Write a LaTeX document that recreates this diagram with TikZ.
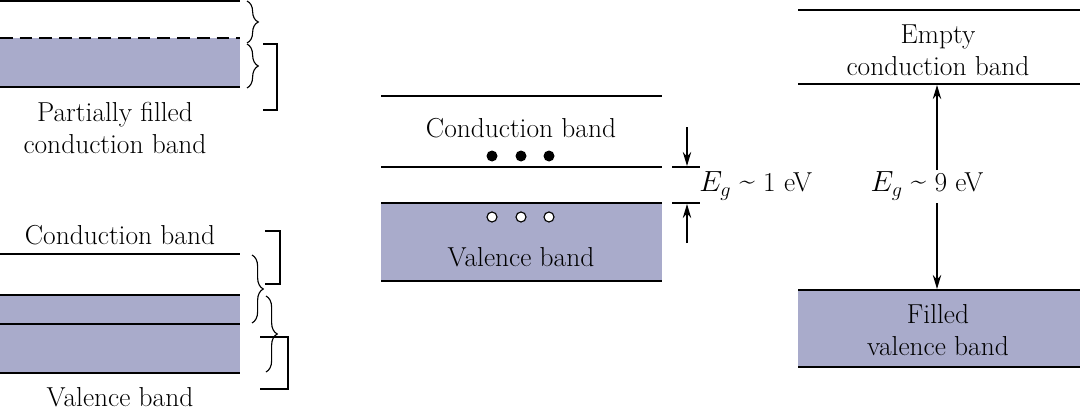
\documentclass[tikz,border=0pt]{standalone}
\usetikzlibrary{decorations.pathreplacing,arrows.meta}
\definecolor{bandfill}{HTML}{A9ABCB}
\begin{document}
\begin{tikzpicture}[x=0.025cm,y=-0.025cm,
  lbl/.style={font=\fontsize{19.5}{23}\selectfont,inner sep=0pt,align=center},
  thickln/.style={line width=1.7pt},
  thinln/.style={line width=0.8pt},
  brc/.style={decorate,decoration={brace,amplitude=8pt},line width=0.8pt},
  brk/.style={line width=0.8pt},
  arr/.style={line width=0.8pt,-{Stealth[length=10pt,width=6pt]}}]
\useasboundingbox (0,0) rectangle (1080,414);
% left top
\fill[bandfill] (0,38) rectangle (240,87);
\draw[thickln] (0,1) -- (240,1);
\draw[thinln,dashed,dash pattern=on 9pt off 5pt] (0,38) -- (240,38);
\draw[thickln] (0,87) -- (240,87);
\draw[brc] (247,1) -- (247,43);
\draw[brc] (247,44) -- (247,88);
\draw[brk] (263,44) -- (277,44) -- (277,110) -- (263,110);
\node[lbl] (pf) at (115,128) {Partially filled\\conduction band};
% left bottom
\node[lbl] (cb1) at (120,235) {Conduction band};
\fill[bandfill] (0,295) rectangle (240,373);
\draw[thickln] (0,254) -- (240,254);
\draw[thinln] (0,295) -- (240,295);
\draw[thinln] (0,324) -- (240,324);
\draw[thickln] (0,373) -- (240,373);
\draw[brc] (252,255) -- (252,323);
\draw[brk] (265,231) -- (280,231) -- (280,284) -- (265,284);
\draw[brc] (266,296) -- (266,372);
\draw[brk] (260,337) -- (288,337) -- (288,389) -- (260,389);
\node[lbl] (vb1) at (120,397) {Valence band};
% middle
\fill[bandfill] (381,203) rectangle (662,281);
\draw[thickln] (381,96) -- (662,96);
\node[lbl] (cb2) at (521,128) {Conduction band};
\foreach \x in {492,521,549} \fill (\x,156) circle (5.5);
\draw[thinln] (381,167) -- (662,167);
\draw[thinln] (381,203) -- (662,203);
\foreach \x in {492,521,549} \draw[line width=0.8pt,fill=white] (\x,217) circle (5);
\node[lbl] (vb2) at (521,257) {Valence band};
\draw[thickln] (381,281) -- (662,281);
\draw[thinln] (672,167) -- (700,167);
\draw[thinln] (672,203) -- (700,203);
\coordinate (a1) at (687,127); \coordinate (a1e) at (687,166);
\coordinate (a2) at (687,243); \coordinate (a2e) at (687,204);
\draw[arr] (a1) -- (a1e);
\draw[arr] (a2) -- (a2e);
\node[lbl,anchor=west] (eg1) at (699,186) {$E_g$ \raisebox{0.2ex}{\textasciitilde} 1 eV};
% right
\fill[bandfill] (798,290) rectangle (1080,367);
\draw[thickln] (798,10) -- (1080,10);
\node[lbl] (ecb) at (938,50) {Empty\\conduction band};
\draw[thinln] (798,84) -- (1080,84);
\node[lbl] (eg2) at (927,186) {$E_g$ \raisebox{0.2ex}{\textasciitilde} 9 eV};
\coordinate (t) at (937,85); \coordinate (b) at (937,289);
\draw[arr] (937,170) -- (t);
\draw[arr] (937,203) -- (b);
\draw[thinln] (798,290) -- (1080,290);
\draw[thickln] (798,367) -- (1080,367);
\node[lbl] (fvb) at (938,330) {Filled\\valence band};
\end{tikzpicture}
\end{document}
